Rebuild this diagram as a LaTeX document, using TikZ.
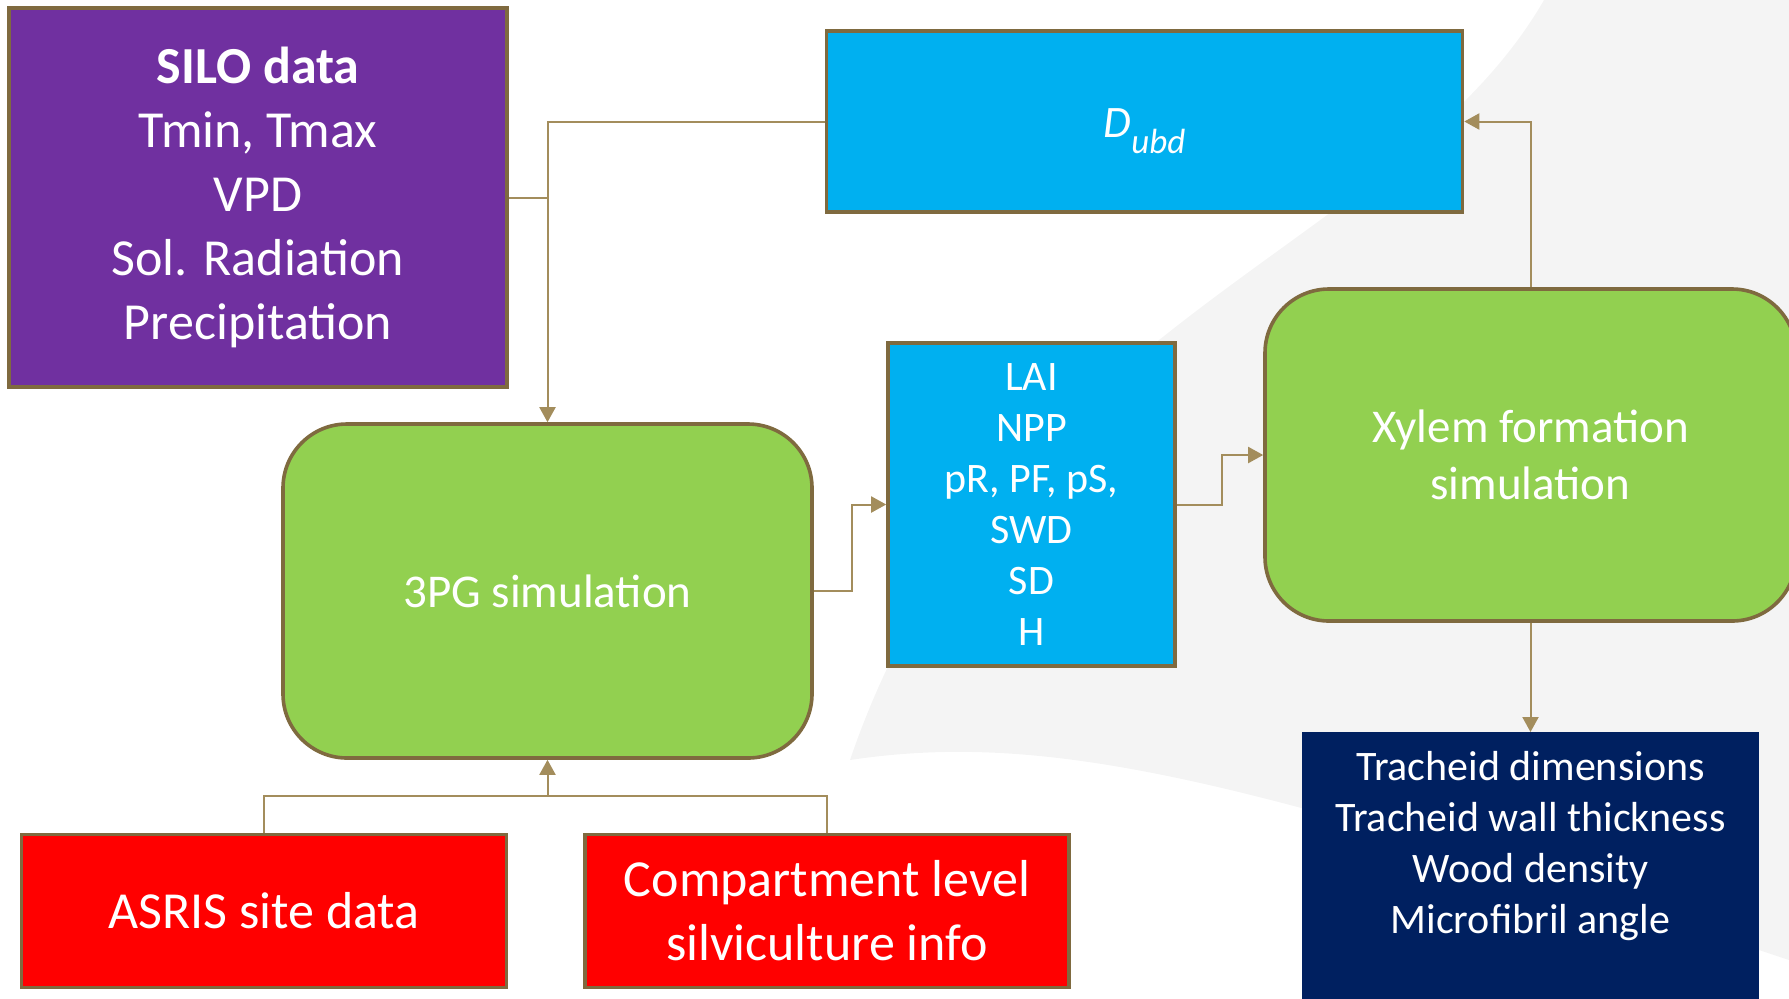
\documentclass[tikz,border=0pt]{standalone}
\usepackage{fontspec}
\setmainfont{Carlito}
\usetikzlibrary{arrows.meta, positioning}

\definecolor{siloPurple}{HTML}{7030A0}
\definecolor{outBlue}{HTML}{00B0F0}
\definecolor{simGreen}{HTML}{92D050}
\definecolor{inRed}{HTML}{FF0000}
\definecolor{resNavy}{HTML}{002060}
\definecolor{edgeBrown}{HTML}{7F6A3F}
\definecolor{linkTan}{HTML}{A38D5C}
\definecolor{swooshGray}{HTML}{F4F4F4}

\begin{document}
\begin{tikzpicture}[x=0.5pt, y=-0.5pt,
    box/.style={draw=edgeBrown, line width=1.8pt, align=center, text=white, inner sep=0pt},
    simbox/.style={box, fill=simGreen, rounded corners=32pt},
    link/.style={draw=linkTan, line width=1pt},
    arrow/.style={link, -{Triangle[length=7.5pt, width=8pt]}},
    bigfont/.style={font=\fontsize{26}{32}\selectfont},
    midfont/.style={font=\fontsize{23.5}{28.5}\selectfont},
    smallfont/.style={font=\fontsize{21}{25.5}\selectfont}]

    \useasboundingbox (0,0) rectangle (1789,998);
    \clip (0,0) rectangle (1789,998);

    % faint swoosh in the background
    \fill[swooshGray] (1544,0) .. controls (1400,250) and (1000,320) .. (850,760)
        .. controls (1050,730) and (1250,780) .. (1789,960) -- (1789,0) -- cycle;

    % inputs and model boxes
    \node[box, fill=siloPurple, bigfont, minimum width=249pt, minimum height=189.5pt] (silo) at (258,197.5)
        {\textbf{SILO data}\\Tmin, Tmax\\VPD\\Sol. Radiation\\Precipitation};
    \node[box, fill=outBlue, minimum width=318pt, minimum height=90.5pt] (dubd) at (1144.5,121.5)
        {\raisebox{-7.75pt}[0pt][0pt]{\fontsize{22.5}{27}\selectfont\itshape D\raisebox{-8pt}{\fontsize{17.5}{21}\selectfont ubd}}};
    \node[simbox, midfont, minimum width=264.5pt, minimum height=167pt] (sim3pg) at (547.5,591) {3PG simulation};
    \node[box, fill=outBlue, smallfont, minimum width=143.5pt, minimum height=161.5pt] (lai) at (1031.5,504.5)
        {LAI\\NPP\\pR, PF, pS,\\SWD\\SD\\H};
    \node[simbox, midfont, minimum width=265.5pt, minimum height=166pt] (xylem) at (1530.5,455)
        {Xylem formation\\simulation};

    % outputs
    \node[fill=resNavy, inner sep=0pt, minimum width=228.5pt, minimum height=154pt, anchor=north] (trach) at (1530.5,732) {};
    \node[smallfont, text=white, align=center, inner sep=0pt, below=9.5pt of trach.north] (trachtext)
        {Tracheid dimensions\\Tracheid wall thickness\\Wood density\\Microfibril angle};

    % site inputs
    \node[box, fill=inRed, bigfont, minimum width=242.5pt, minimum height=76.5pt] (asris) at (264,911) {ASRIS site data};
    \node[box, fill=inRed, bigfont, minimum width=242pt, minimum height=76.5pt] (comp) at (827,911)
        {Compartment level\\silviculture info};

    % connectors
    \coordinate (bus) at (547.5,796);
    \draw[arrow] (dubd.west) -| (sim3pg.north);
    \draw[link] (silo.east) -- (silo.east -| sim3pg.north);
    \draw[arrow] (sim3pg.east) -- ++(19pt,0) |- (lai.west);
    \draw[arrow] (lai.east) -- ++(22.5pt,0) |- (xylem.west);
    \draw[arrow] (xylem.north) |- (dubd.east);
    \draw[arrow] (xylem.south) -- (trach.north);
    \draw[link] (asris.north) |- (bus) -| (comp.north);
    \draw[arrow] (bus) -- (sim3pg.south);
\end{tikzpicture}
\end{document}
